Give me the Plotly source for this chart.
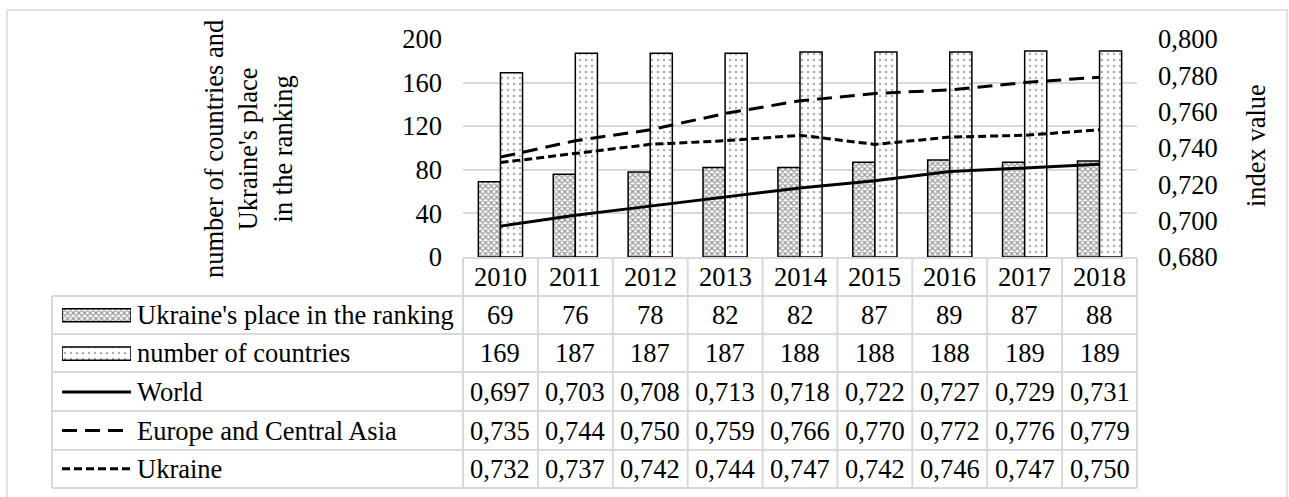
import plotly.graph_objects as go

# values with its data table
years = ["2010", "2011", "2012", "2013", "2014", "2015", "2016", "2017", "2018"]
place = [69, 76, 78, 82, 82, 87, 89, 87, 88]
countries = [169, 187, 187, 187, 188, 188, 188, 189, 189]
world = [0.697, 0.703, 0.708, 0.713, 0.718, 0.722, 0.727, 0.729, 0.731]
europe = [0.735, 0.744, 0.750, 0.759, 0.766, 0.770, 0.772, 0.776, 0.779]
ukraine = [0.732, 0.737, 0.742, 0.744, 0.747, 0.742, 0.746, 0.747, 0.750]

names = ["Ukraine's place in the ranking", "number of countries",
         "World", "Europe and Central Asia", "Ukraine"]

W, H = 1289, 497
FONT = "Liberation Serif"
FS = 26.5
GRID = "#d9d9d9"


def X(px):
    return px / W


def Y(py):
    return 1 - py / H


place_marker = dict(color="white", line=dict(color="black", width=1.5),
                    pattern=dict(shape="x", fgcolor="#333333", bgcolor="white",
                                 size=4, solidity=0.55))
count_marker = dict(color="white", line=dict(color="black", width=1.5),
                    pattern=dict(shape=".", fgcolor="#555555", bgcolor="white",
                                 size=6, solidity=0.12))
world_line = dict(color="black", width=3)
europe_line = dict(color="black", width=3, dash="15px,8px")
ukraine_line = dict(color="black", width=3, dash="8px,4px")

fig = go.Figure()
fig.add_trace(go.Bar(x=years, y=place, name=names[0], marker=place_marker))
fig.add_trace(go.Bar(x=years, y=countries, name=names[1], marker=count_marker))
fig.add_trace(go.Scatter(x=years, y=world, name=names[2], mode="lines",
                         line=world_line, yaxis="y2"))
fig.add_trace(go.Scatter(x=years, y=europe, name=names[3], mode="lines",
                         line=europe_line, yaxis="y2"))
fig.add_trace(go.Scatter(x=years, y=ukraine, name=names[4], mode="lines",
                         line=ukraine_line, yaxis="y2"))

# legend keys inside the data table (separate hidden axes)
fig.add_trace(go.Bar(x=[1], y=[4.5], base=0, width=0.34, offset=-0.17, orientation="h",
                     marker=place_marker, xaxis="x3", yaxis="y3"))
fig.add_trace(go.Bar(x=[1], y=[3.5], base=0, width=0.34, offset=-0.17, orientation="h",
                     marker=count_marker, xaxis="x3", yaxis="y3"))
for row, ln in zip([2.5, 1.5, 0.5], [world_line, europe_line, ukraine_line]):
    fig.add_trace(go.Scatter(x=[0, 1], y=[row, row], mode="lines", line=ln,
                             xaxis="x3", yaxis="y3"))

fig.update_traces(showlegend=False)

# data table: rows, cells, grid
row_top = [296, 334, 372, 411, 450]
row_bot = [334, 372, 411, 450, 488]
series_txt = [
    [str(v) for v in place],
    [str(v) for v in countries],
    [f"{v:.3f}".replace(".", ",") for v in world],
    [f"{v:.3f}".replace(".", ",") for v in europe],
    [f"{v:.3f}".replace(".", ",") for v in ukraine],
]

# annotations on a category axis take the category index
ann = []
for i, yr in enumerate(years):
    ann.append(dict(x=i, xref="x", y=Y(277), yref="paper", text=yr,
                    showarrow=False, xanchor="center", yanchor="middle"))
for r in range(5):
    yc = Y((row_top[r] + row_bot[r]) / 2)
    ann.append(dict(x=X(135), xref="paper", y=yc, yref="paper", text=names[r],
                    showarrow=False, xanchor="left", yanchor="middle"))
    for i, t in enumerate(series_txt[r]):
        ann.append(dict(x=i, xref="x", y=yc, yref="paper", text=t,
                        showarrow=False, xanchor="center", yanchor="middle"))

ann.append(dict(x=X(248), y=Y(149), xref="paper", yref="paper", textangle=-90,
                text="number of countries and<br>Ukraine's place<br>in the ranking",
                showarrow=False, xanchor="center", yanchor="middle"))
ann.append(dict(x=X(1256), y=Y(146), xref="paper", yref="paper", textangle=-90,
                text="index value", showarrow=False, xanchor="center", yanchor="middle"))

L, R = 463, 1137
shapes = []


def hline(y, x0, x1):
    shapes.append(dict(type="line", xref="paper", yref="paper", x0=X(x0), x1=X(x1),
                       y0=Y(y), y1=Y(y), line=dict(color=GRID, width=2)))


def vline(x, y0, y1):
    shapes.append(dict(type="line", xref="paper", yref="paper", x0=X(x), x1=X(x),
                       y0=Y(y0), y1=Y(y1), line=dict(color=GRID, width=2)))


hline(258, L, R)
for y in row_top + [488]:
    hline(y, 52, R)
vline(52, 296, 488)
for k in range(len(years) + 1):
    vline(L + k * (R - L) / len(years), 258, 488)

# chart border
shapes.append(dict(type="rect", xref="paper", yref="paper", x0=X(7), x1=X(1287),
                   y0=Y(500), y1=Y(10), line=dict(color=GRID, width=1.5)))

fig.update_layout(
    width=W, height=H,
    margin=dict(l=0, r=0, t=0, b=0, autoexpand=False),
    paper_bgcolor="white", plot_bgcolor="white",
    font=dict(family=FONT, size=FS, color="black"),
    separators=", ",
    barmode="group", bargap=0.41, bargroupgap=0,
    hovermode=False,
    xaxis=dict(domain=[X(L), X(R)], type="category", range=[-0.5, len(years) - 0.5],
               showticklabels=False, showgrid=False, zeroline=False, showline=False,
               ticks="", automargin=False),
    yaxis=dict(domain=[Y(257), Y(39)], range=[0, 200], dtick=40,
               gridcolor=GRID, gridwidth=1.5, zeroline=False, showline=False,
               ticks="", ticklabelstandoff=20, automargin=False),
    yaxis2=dict(overlaying="y", side="right", range=[0.68, 0.80], dtick=0.02,
                tickformat=".3f", showgrid=False, zeroline=False, showline=False,
                ticks="", ticklabelstandoff=20, automargin=False),
    xaxis3=dict(domain=[X(62), X(131)], range=[0, 1], visible=False, anchor="y3",
                automargin=False),
    yaxis3=dict(domain=[Y(488), Y(296)], range=[0, 5], visible=False, anchor="x3",
                automargin=False),
    annotations=ann,
    shapes=shapes,
)

# drop the page's default body margin so the figure sits at the window corner
fig.write_html("out.html", config={"displayModeBar": False},
               post_script="document.body.style.margin = '0';")
